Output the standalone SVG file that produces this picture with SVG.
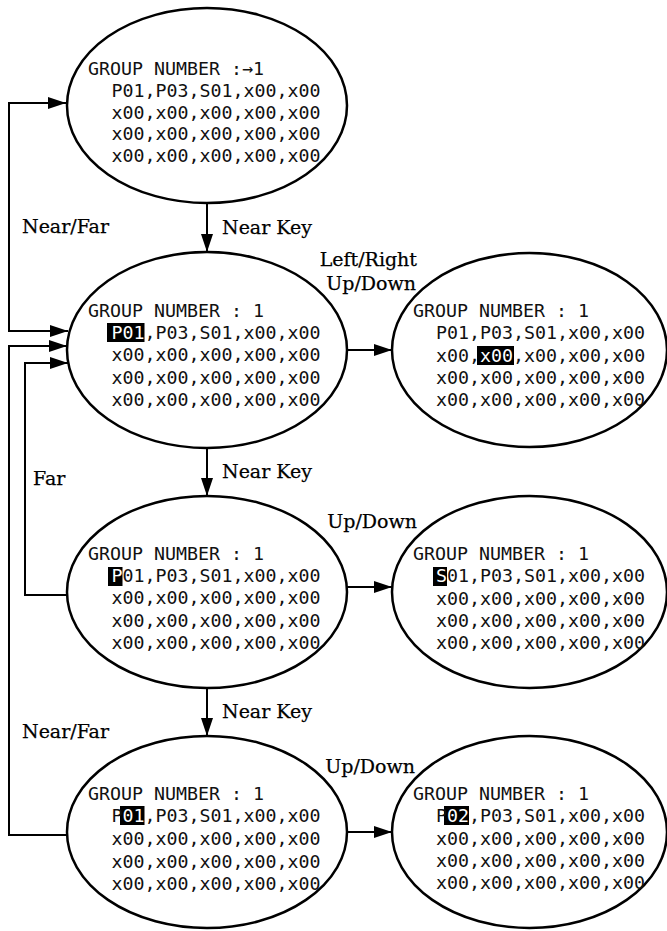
<svg xmlns="http://www.w3.org/2000/svg" width="667" height="931" viewBox="0 0 667 931">
<defs>
<marker id="ah" markerUnits="userSpaceOnUse" markerWidth="18" markerHeight="12" refX="18" refY="6" orient="auto-start-reverse">
<path d="M0,0 L18,6 L0,12 z" fill="#000"/>
</marker>
<style>
.node ellipse{fill:#fff;stroke:#000;stroke-width:2.5}
.t{font-family:"DejaVu Sans Mono","Liberation Mono",monospace;font-size:18.3px;fill:#111}
.hl{fill:#fff}
.lbl{font-family:"DejaVu Serif","Liberation Serif",serif;font-size:19px;fill:#000;stroke:#000;stroke-width:0.25}
.edge{fill:none;stroke:#000;stroke-width:2}
</style>
</defs>
<rect width="667" height="931" fill="#fff"/>

<g id="connectors">
<path class="edge" d="M66,103 L9,103 L9,331 L68,331" marker-start="url(#ah)" marker-end="url(#ah)"/>
<path class="edge" d="M67,835 L9,835 L9,346 L67,346" marker-end="url(#ah)"/>
<path class="edge" d="M67,595 L25,595 L25,363 L68,363" marker-end="url(#ah)"/>
<path class="edge" d="M207,203 L207,252" marker-end="url(#ah)"/>
<path class="edge" d="M207,448 L207,496" marker-end="url(#ah)"/>
<path class="edge" d="M207,688 L207,736" marker-end="url(#ah)"/>
<path class="edge" d="M347,350 L392,350" marker-end="url(#ah)"/>
<path class="edge" d="M347,587 L392,587" marker-end="url(#ah)"/>
<path class="edge" d="M347,832 L392,832" marker-end="url(#ah)"/>
<text class="lbl" x="22" y="233">Near/Far</text>
<text class="lbl" x="222" y="234">Near Key</text>
<text class="lbl" x="417" y="266" text-anchor="end">Left/Right</text>
<text class="lbl" x="416" y="290" text-anchor="end">Up/Down</text>
<text class="lbl" x="33" y="485">Far</text>
<text class="lbl" x="222" y="478">Near Key</text>
<text class="lbl" x="417" y="528" text-anchor="end">Up/Down</text>
<text class="lbl" x="22" y="738">Near/Far</text>
<text class="lbl" x="222" y="718">Near Key</text>
<text class="lbl" x="415" y="773" text-anchor="end">Up/Down</text>
</g>

<g id="node1" class="node">
<ellipse cx="207" cy="105.5" rx="140" ry="97.5"/>
<text class="t" x="88" y="75">GROUP NUMBER :→1</text>
<text class="t" x="111.5" y="97">P01,P03,S01,x00,x00</text>
<text class="t" x="111.5" y="119">x00,x00,x00,x00,x00</text>
<text class="t" x="111.5" y="140">x00,x00,x00,x00,x00</text>
<text class="t" x="111.5" y="162">x00,x00,x00,x00,x00</text>
</g>

<g id="node2" class="node">
<ellipse cx="207" cy="350" rx="140" ry="98"/>
<rect x="107" y="323" width="37.5" height="19" fill="#000"/>
<text class="t" x="88" y="317">GROUP NUMBER : 1</text>
<text class="t" x="111.5" y="339"><tspan class="hl">P01</tspan>,P03,S01,x00,x00</text>
<text class="t" x="111.5" y="361">x00,x00,x00,x00,x00</text>
<text class="t" x="111.5" y="384">x00,x00,x00,x00,x00</text>
<text class="t" x="111.5" y="406">x00,x00,x00,x00,x00</text>
</g>

<g id="node3" class="node">
<ellipse cx="529.5" cy="350" rx="137.5" ry="97"/>
<rect x="477" y="346" width="37" height="19" fill="#000"/>
<text class="t" x="413" y="317">GROUP NUMBER : 1</text>
<text class="t" x="436" y="339">P01,P03,S01,x00,x00</text>
<text class="t" x="436" y="362">x00,<tspan class="hl">x00</tspan>,x00,x00,x00</text>
<text class="t" x="436" y="384">x00,x00,x00,x00,x00</text>
<text class="t" x="436" y="406">x00,x00,x00,x00,x00</text>
</g>

<g id="node4" class="node">
<ellipse cx="207" cy="592" rx="140" ry="96"/>
<rect x="108" y="567" width="14.5" height="19" fill="#000"/>
<text class="t" x="88" y="560">GROUP NUMBER : 1</text>
<text class="t" x="111.5" y="582"><tspan class="hl">P</tspan>01,P03,S01,x00,x00</text>
<text class="t" x="111.5" y="604">x00,x00,x00,x00,x00</text>
<text class="t" x="111.5" y="627">x00,x00,x00,x00,x00</text>
<text class="t" x="111.5" y="649">x00,x00,x00,x00,x00</text>
</g>

<g id="node5" class="node">
<ellipse cx="529.5" cy="592" rx="137.5" ry="96"/>
<rect x="433" y="567" width="14" height="19" fill="#000"/>
<text class="t" x="413" y="560">GROUP NUMBER : 1</text>
<text class="t" x="436" y="582"><tspan class="hl">S</tspan>01,P03,S01,x00,x00</text>
<text class="t" x="436" y="605">x00,x00,x00,x00,x00</text>
<text class="t" x="436" y="627">x00,x00,x00,x00,x00</text>
<text class="t" x="436" y="649">x00,x00,x00,x00,x00</text>
</g>

<g id="node6" class="node">
<ellipse cx="207" cy="832" rx="140" ry="96"/>
<rect x="120" y="806" width="24.5" height="19" fill="#000"/>
<text class="t" x="88" y="800">GROUP NUMBER : 1</text>
<text class="t" x="111.5" y="822">P<tspan class="hl">01</tspan>,P03,S01,x00,x00</text>
<text class="t" x="111.5" y="845">x00,x00,x00,x00,x00</text>
<text class="t" x="111.5" y="868">x00,x00,x00,x00,x00</text>
<text class="t" x="111.5" y="890">x00,x00,x00,x00,x00</text>
</g>

<g id="node7" class="node">
<ellipse cx="529.5" cy="832" rx="137.5" ry="96"/>
<rect x="444" y="806" width="25" height="19" fill="#000"/>
<text class="t" x="413" y="800">GROUP NUMBER : 1</text>
<text class="t" x="436" y="822">P<tspan class="hl">02</tspan>,P03,S01,x00,x00</text>
<text class="t" x="436" y="845">x00,x00,x00,x00,x00</text>
<text class="t" x="436" y="867">x00,x00,x00,x00,x00</text>
<text class="t" x="436" y="889">x00,x00,x00,x00,x00</text>
</g>
</svg>
